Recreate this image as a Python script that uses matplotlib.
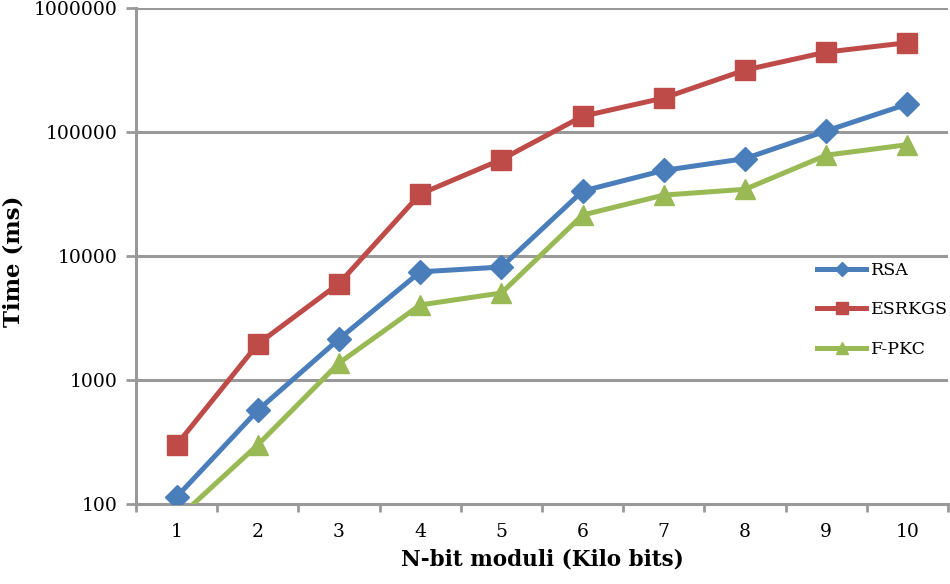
import numpy as np
import matplotlib
matplotlib.use("Agg")
import matplotlib.pyplot as plt
from matplotlib.ticker import FixedLocator, FixedFormatter, NullLocator

# Donnees
moduli = [1, 2, 3, 4, 5, 6, 7, 8, 9, 10]
rsa = [114, 570, 2140, 7450, 8150, 33400, 49000, 61000, 102000, 168000]
esrkgs = [300, 1950, 6000, 31600, 60000, 134000, 188000, 316000, 441000, 525000]
fpkc = [75, 300, 1370, 4030, 5030, 21400, 31000, 34500, 65000, 79000]
yticks = [100, 1000, 10000, 100000, 1000000]

plt.rcParams['font.family'] = ['DejaVu Serif']
gris = '#999999'

fig = plt.figure(figsize=(9.5, 5.84), dpi=100)
ax = fig.add_axes([136/950, 80/584, 812/950, 496/584])

ax.plot(moduli, rsa, color='#4a7ebb', lw=3.6, marker='D', ms=12, label='RSA', zorder=3)
ax.plot(moduli, esrkgs, color='#be4b48', lw=3.6, marker='s', ms=14, label='ESRKGS', zorder=3)
ax.plot(moduli, fpkc, color='#98b954', lw=3.6, marker='^', ms=14, label='F-PKC', zorder=3)

ax.set_yscale('log')
ax.set_ylim(100, 1000000)
ax.set_xlim(0.5, 10.5)
ax.yaxis.set_major_locator(FixedLocator(yticks))
ax.yaxis.set_major_formatter(FixedFormatter([str(v) for v in yticks]))
ax.yaxis.set_minor_locator(NullLocator())

# graduations entre les categories
ax.set_xticks(np.arange(0.5, 11, 1))
ax.set_xticklabels([])
ax.set_xticks(moduli, minor=True)
ax.set_xticklabels([str(m) for m in moduli], minor=True)
ax.tick_params(axis='x', which='minor', length=0, pad=14, labelsize=13.5)
ax.tick_params(axis='x', which='major', length=6, width=2, color=gris)
ax.tick_params(axis='y', length=7, width=2, color=gris, labelsize=13.5, pad=6)

ax.grid(axis='y', color=gris, lw=2.2)
for s in ['top', 'right']:
    ax.spines[s].set_visible(False)
for s in ['left', 'bottom']:
    ax.spines[s].set_color(gris)
    ax.spines[s].set_linewidth(2.2)

ax.set_ylabel('Time (ms)', fontsize=16.5, fontweight='bold', va='center')
ax.yaxis.set_label_coords(-0.151, 0.49)
ax.set_xlabel('N-bit moduli (Kilo bits)', fontsize=15.5, fontweight='bold', labelpad=5)

leg = ax.legend(loc='upper left', bbox_to_anchor=(0.82, 0.52), frameon=False,
                fontsize=12.5, handlelength=2.8, markerscale=0.6, labelspacing=1.3,
                handletextpad=0.3)

fig.savefig('out.png', dpi=100)
